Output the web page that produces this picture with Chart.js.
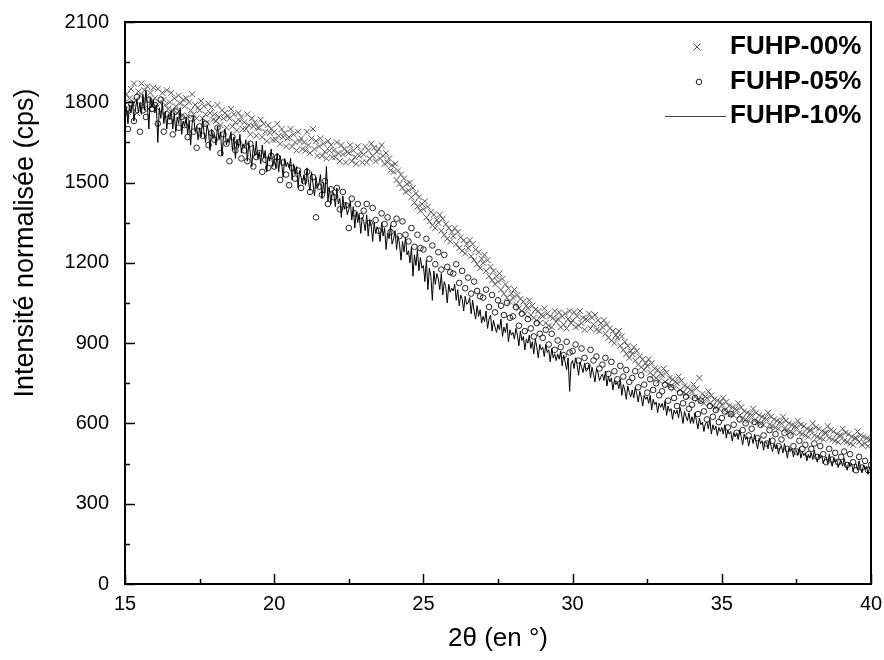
<!DOCTYPE html>
<html>
<head>
<meta charset="utf-8">
<script src="https://cdn.jsdelivr.net/npm/chart.js@4.4.1/dist/chart.umd.min.js"></script>
<style>
  html, body { margin: 0; padding: 0; background: #fff; }
  #xrd_chart { display: block; }
</style>
</head>
<body>
<canvas id="xrd_chart" width="884" height="660"></canvas>
<script>
// 2theta grid of the scans (deg)
const angleStart = 15
const stepFine = 0.05    // FUHP-00% and FUHP-10%
const stepCoarse = 0.1   // FUHP-05%

const seriesNames = ['FUHP-00%', 'FUHP-05%', 'FUHP-10%']

// FUHP-00% (crosses), one row = 0.5 deg
const fuhp00 = [
  1790, 1830, 1765, 1815, 1850, 1780, 1870, 1805, 1760, 1840,
  1825, 1870, 1790, 1845, 1810, 1860, 1775, 1835, 1800, 1855,
  1815, 1780, 1850, 1800, 1765, 1835, 1810, 1790, 1845, 1775,
  1800, 1835, 1770, 1815, 1785, 1760, 1825, 1795, 1750, 1810,
  1785, 1815, 1750, 1800, 1770, 1830, 1755, 1790, 1740, 1780,
  1770, 1805, 1740, 1785, 1755, 1725, 1795, 1760, 1780, 1735,
  1755, 1730, 1790, 1745, 1715, 1770, 1740, 1760, 1705, 1750,
  1740, 1775, 1710, 1755, 1725, 1695, 1760, 1730, 1745, 1700,
  1725, 1700, 1755, 1715, 1680, 1740, 1710, 1725, 1675, 1705,
  1705, 1735, 1670, 1720, 1690, 1655, 1715, 1685, 1700, 1660,
  1690, 1660, 1720, 1675, 1645, 1700, 1670, 1685, 1635, 1665,
  1670, 1700, 1635, 1680, 1650, 1620, 1690, 1655, 1665, 1625,
  1650, 1620, 1690, 1640, 1610, 1665, 1700, 1625, 1655, 1600,
  1635, 1665, 1600, 1645, 1615, 1590, 1655, 1620, 1640, 1595,
  1620, 1595, 1650, 1610, 1580, 1640, 1605, 1625, 1575, 1615,
  1610, 1640, 1580, 1620, 1595, 1570, 1635, 1600, 1615, 1575,
  1605, 1635, 1575, 1620, 1590, 1645, 1600, 1630, 1580, 1615,
  1625, 1590, 1640, 1600, 1570, 1610, 1575, 1590, 1545, 1565,
  1540, 1570, 1510, 1545, 1495, 1530, 1480, 1515, 1465, 1495,
  1470, 1500, 1445, 1480, 1425, 1460, 1410, 1445, 1395, 1420,
  1400, 1430, 1370, 1410, 1355, 1390, 1340, 1380, 1330, 1360,
  1350, 1380, 1320, 1365, 1305, 1345, 1290, 1330, 1280, 1315,
  1300, 1330, 1270, 1315, 1255, 1295, 1245, 1285, 1235, 1270,
  1255, 1285, 1225, 1270, 1210, 1250, 1195, 1240, 1180, 1215,
  1200, 1230, 1170, 1210, 1150, 1185, 1135, 1170, 1120, 1150,
  1130, 1160, 1100, 1140, 1085, 1120, 1070, 1105, 1055, 1085,
  1070, 1100, 1045, 1080, 1030, 1065, 1020, 1055, 1010, 1040,
  1030, 1060, 1005, 1040, 995, 1025, 985, 1020, 975, 1005,
  1000, 1030, 975, 1010, 965, 1000, 960, 995, 1020, 980,
  990, 1015, 960, 1000, 970, 1010, 955, 990, 1020, 975,
  985, 1015, 960, 1000, 965, 1020, 975, 995, 950, 990,
  985, 1010, 955, 995, 970, 1005, 950, 985, 945, 975,
  960, 985, 935, 970, 920, 955, 910, 945, 900, 930,
  920, 945, 890, 925, 875, 905, 860, 890, 845, 870,
  860, 885, 835, 870, 820, 850, 810, 840, 800, 825,
  815, 840, 790, 825, 780, 805, 770, 800, 760, 785,
  780, 805, 755, 790, 745, 770, 740, 765, 730, 755,
  750, 775, 725, 760, 715, 740, 710, 735, 700, 725,
  720, 745, 700, 730, 690, 770, 685, 710, 675, 700,
  695, 720, 675, 705, 665, 690, 660, 685, 655, 680,
  670, 695, 650, 680, 640, 665, 635, 660, 630, 655,
  650, 675, 630, 660, 620, 645, 615, 640, 610, 635,
  630, 655, 610, 640, 605, 630, 600, 625, 595, 620,
  615, 640, 595, 625, 590, 615, 585, 610, 580, 605,
  600, 625, 580, 610, 575, 600, 570, 595, 565, 590,
  585, 610, 565, 595, 560, 590, 555, 580, 550, 575,
  575, 600, 555, 585, 550, 580, 545, 570, 540, 565,
  565, 590, 545, 575, 540, 570, 535, 560, 530, 555,
  555, 580, 535, 565, 530, 560, 525, 550, 520, 545,
  545, 570, 530, 555, 520, 550, 525, 545, 515, 540,
  540
]

// FUHP-05% (circles), one row = 1 deg
const fuhp05 = [
  1760, 1700, 1795, 1730, 1820, 1690, 1770, 1745, 1810, 1775,
  1790, 1720, 1810, 1690, 1755, 1730, 1680, 1765, 1705, 1745,
  1715, 1670, 1740, 1690, 1630, 1710, 1675, 1720, 1640, 1685,
  1660, 1705, 1610, 1680, 1645, 1580, 1670, 1620, 1650, 1590,
  1620, 1580, 1645, 1560, 1595, 1610, 1540, 1585, 1555, 1600,
  1560, 1595, 1510, 1575, 1530, 1490, 1555, 1515, 1545, 1480,
  1505, 1540, 1465, 1520, 1370, 1485, 1455, 1505, 1420, 1475,
  1445, 1480, 1400, 1465, 1415, 1330, 1440, 1385, 1420, 1375,
  1395, 1420, 1350, 1405, 1360, 1320, 1385, 1345, 1370, 1315,
  1345, 1365, 1300, 1355, 1305, 1280, 1330, 1260, 1305, 1255,
  1250, 1290, 1215, 1265, 1195, 1240, 1175, 1230, 1185, 1165,
  1160, 1195, 1125, 1170, 1105, 1145, 1085, 1130, 1095, 1075,
  1070, 1100, 1035, 1080, 1015, 1060, 1040, 1005, 1050, 995,
  1000, 1035, 965, 1010, 945, 990, 955, 925, 975, 935,
  920, 950, 895, 935, 875, 910, 885, 855, 905, 865,
  870, 895, 835, 880, 845, 815, 875, 835, 850, 805,
  820, 845, 785, 830, 795, 765, 815, 775, 800, 755,
  770, 795, 735, 780, 745, 715, 765, 725, 750, 705,
  720, 745, 685, 735, 695, 665, 715, 675, 700, 655,
  670, 695, 635, 685, 645, 615, 665, 625, 650, 605,
  620, 645, 585, 635, 595, 565, 615, 575, 600, 555,
  580, 605, 545, 595, 555, 525, 575, 535, 560, 515,
  540, 565, 505, 555, 515, 495, 535, 505, 520, 485,
  505, 525, 475, 515, 485, 455, 505, 465, 490, 455,
  475, 495, 445, 485, 455, 425, 475, 435, 460, 425,
  445
]

// FUHP-10% (line), one row = 0.5 deg
const fuhp10 = [
  1745, 1780, 1720, 1790, 1760, 1805, 1730, 1775, 1810, 1760,
  1800, 1755, 1830, 1770, 1845, 1790, 1700, 1820, 1780, 1810,
  1760, 1790, 1650, 1780, 1740, 1800, 1720, 1765, 1700, 1755,
  1735, 1770, 1700, 1760, 1690, 1745, 1720, 1780, 1680, 1730,
  1710, 1745, 1680, 1730, 1640, 1720, 1750, 1690, 1710, 1660,
  1705, 1670, 1740, 1685, 1650, 1715, 1690, 1620, 1700, 1665,
  1680, 1640, 1710, 1660, 1690, 1600, 1670, 1700, 1640, 1665,
  1650, 1690, 1620, 1670, 1590, 1660, 1630, 1680, 1610, 1645,
  1630, 1660, 1580, 1650, 1610, 1560, 1640, 1600, 1655, 1590,
  1615, 1570, 1640, 1590, 1620, 1540, 1600, 1580, 1625, 1560,
  1590, 1555, 1610, 1540, 1600, 1570, 1520, 1590, 1560, 1575,
  1555, 1590, 1510, 1570, 1530, 1560, 1480, 1545, 1520, 1500,
  1530, 1490, 1555, 1500, 1470, 1540, 1495, 1450, 1520, 1480,
  1495, 1530, 1440, 1500, 1460, 1560, 1430, 1480, 1420, 1470,
  1455, 1410, 1480, 1420, 1440, 1370, 1450, 1400, 1425, 1380,
  1400, 1430, 1360, 1410, 1330, 1390, 1350, 1380, 1310, 1370,
  1355, 1320, 1380, 1300, 1360, 1340, 1280, 1350, 1310, 1335,
  1320, 1280, 1350, 1300, 1330, 1250, 1310, 1290, 1340, 1270,
  1290, 1320, 1250, 1300, 1270, 1210, 1280, 1240, 1295, 1230,
  1245, 1200, 1260, 1150, 1230, 1190, 1250, 1170, 1220, 1180,
  1190, 1130, 1210, 1100, 1180, 1150, 1060, 1170, 1120, 1160,
  1140, 1100, 1160, 1080, 1130, 1110, 1050, 1120, 1090, 1105,
  1095, 1120, 1060, 1100, 1040, 1080, 1065, 1020, 1075, 1045,
  1050, 1070, 1010, 1060, 1020, 990, 1040, 1000, 1025, 975,
  1000, 980, 1020, 955, 990, 1005, 945, 985, 960, 940,
  970, 950, 990, 925, 960, 940, 975, 905, 950, 930,
  940, 915, 955, 930, 890, 945, 910, 925, 875, 915,
  900, 930, 880, 905, 860, 915, 885, 845, 895, 875,
  885, 850, 895, 865, 875, 830, 880, 845, 860, 835,
  860, 840, 870, 815, 855, 830, 800, 845, 720, 825,
  835, 805, 845, 820, 780, 830, 810, 790, 825, 795,
  800, 820, 770, 810, 785, 755, 805, 790, 760, 775,
  785, 760, 795, 740, 775, 755, 770, 725, 760, 745,
  755, 730, 765, 705, 745, 725, 690, 740, 715, 700,
  725, 695, 735, 710, 680, 720, 700, 665, 705, 690,
  700, 675, 705, 650, 690, 670, 680, 640, 675, 660,
  675, 650, 685, 630, 665, 645, 655, 615, 650, 635,
  650, 620, 660, 635, 600, 645, 625, 610, 640, 600,
  625, 600, 640, 610, 580, 620, 595, 605, 570, 600,
  605, 580, 615, 560, 595, 575, 590, 555, 585, 570,
  585, 560, 595, 545, 575, 560, 570, 535, 565, 550,
  565, 540, 575, 550, 520, 560, 540, 550, 515, 545,
  550, 525, 560, 530, 505, 545, 525, 535, 500, 530,
  530, 505, 545, 515, 495, 525, 505, 520, 485, 510,
  515, 490, 525, 500, 470, 510, 495, 505, 475, 495,
  500, 480, 510, 470, 495, 480, 490, 460, 485, 470,
  490, 465, 500, 475, 455, 485, 470, 480, 450, 470,
  475, 450, 485, 460, 440, 470, 455, 465, 435, 455,
  460, 440, 470, 445, 425, 455, 440, 450, 420, 445,
  450, 425, 460, 435, 415, 445, 430, 440, 410, 435,
  430
]

const xTickStep = 5
const yTickStep = 300
const yTitle = 'Intensité normalisée (cps)'
const xTitle = '2θ (en °)'

const FONT = '"Liberation Sans", Arial, sans-serif'

function toPoints(values, step){
    return values.map((v, i) => ({x: Math.round((angleStart + i * step) * 100) / 100, y: v}))
}

// frame + inward ticks (major and minor)
const frameAndTicks = {
    id: 'frameAndTicks',
    afterDatasetsDraw(chart){
        const ctx = chart.ctx
        const xs = chart.scales.x
        const ys = chart.scales.y
        const a = chart.chartArea
        ctx.save()
        ctx.strokeStyle = '#000'
        ctx.lineWidth = 1.5
        for (let v = xs.min; v <= xs.max; v += xTickStep / 2) {
            const px = Math.round(xs.getPixelForValue(v)) + 0.5
            const len = (v % xTickStep === 0) ? 10 : 5
            ctx.beginPath()
            ctx.moveTo(px, a.bottom)
            ctx.lineTo(px, a.bottom - len)
            ctx.stroke()
        }
        for (let v = ys.min; v <= ys.max; v += yTickStep / 2) {
            const py = Math.round(ys.getPixelForValue(v)) + 0.5
            const len = (v % yTickStep === 0) ? 10 : 5
            ctx.beginPath()
            ctx.moveTo(a.left, py)
            ctx.lineTo(a.left + len, py)
            ctx.stroke()
        }
        ctx.lineWidth = 2
        ctx.strokeRect(a.left, a.top, a.right - a.left, a.bottom - a.top)
        ctx.restore()
    }
}

// legend top right + y title (sits above the axis middle in the original)
const legendBox = {
    id: 'legendBox',
    afterDraw(chart){
        const ctx = chart.ctx
        const rows = [47, 82, 116]
        const markX = 697
        ctx.save()
        ctx.strokeStyle = '#555'
        ctx.lineWidth = 1
        ctx.beginPath()
        ctx.moveTo(markX - 3.5, rows[0] - 3.5); ctx.lineTo(markX + 3.5, rows[0] + 3.5)
        ctx.moveTo(markX + 3.5, rows[0] - 3.5); ctx.lineTo(markX - 3.5, rows[0] + 3.5)
        ctx.stroke()
        ctx.strokeStyle = '#222'
        ctx.beginPath()
        ctx.arc(markX + 2, rows[1], 2.8, 0, Math.PI * 2)
        ctx.stroke()
        ctx.strokeStyle = '#444'
        ctx.beginPath()
        ctx.moveTo(665, rows[2] + 0.5); ctx.lineTo(726, rows[2] + 0.5)
        ctx.stroke()

        ctx.fillStyle = '#000'
        ctx.font = 'bold 26px ' + FONT
        ctx.textBaseline = 'middle'
        ctx.textAlign = 'left'
        seriesNames.forEach((name, i) => ctx.fillText(name, 730, rows[i]))

        ctx.translate(26, 243)
        ctx.rotate(-Math.PI / 2)
        ctx.textAlign = 'center'
        ctx.font = '27px ' + FONT
        ctx.fillText(yTitle, 0, 0)
        ctx.restore()
    }
}

const ctx = document.getElementById('xrd_chart').getContext('2d')

const xrdChart = new Chart(ctx, {
    type: 'scatter',
    data: {
        datasets: [
            {
                label: seriesNames[0],
                data: toPoints(fuhp00, stepFine),
                showLine: false,
                pointStyle: 'crossRot',
                pointRadius: 4.2,
                borderColor: '#555',
                backgroundColor: '#555',
                borderWidth: 1,
                order: 2
            },
            {
                label: seriesNames[1],
                data: toPoints(fuhp05, stepCoarse),
                showLine: false,
                pointStyle: 'circle',
                pointRadius: 2.8,
                borderColor: '#222',
                backgroundColor: 'rgba(0,0,0,0)',
                borderWidth: 1,
                order: 1
            },
            {
                label: seriesNames[2],
                data: toPoints(fuhp10, stepFine),
                showLine: true,
                pointRadius: 0,
                borderColor: '#000',
                borderWidth: 1,
                tension: 0,
                order: 0
            }
        ]
    },
    options: {
        responsive: false,
        animation: false,
        events: [],
        layout: {padding: {top: 22, right: 13, left: 0, bottom: 0}},
        plugins: {
            legend: {display: false},
            tooltip: {enabled: false}
        },
        scales: {
            x: {
                type: 'linear',
                min: 15,
                max: 40,
                afterFit(scale){
                    scale.height = 76
                    scale.paddingLeft = 0
                    scale.paddingRight = 0
                },
                grid: {display: false, drawTicks: false},
                border: {display: false},
                ticks: {
                    stepSize: xTickStep,
                    color: '#000',
                    padding: 8,
                    maxRotation: 0,
                    callback: v => String(v),
                    font: {family: FONT, size: 20}
                },
                title: {
                    display: true,
                    text: xTitle,
                    color: '#000',
                    font: {family: FONT, size: 26},
                    padding: {top: 0, bottom: 6}
                }
            },
            y: {
                min: 0,
                max: 2100,
                afterFit(scale){
                    scale.width = 125
                    scale.paddingTop = 0
                    scale.paddingBottom = 0
                },
                grid: {display: false, drawTicks: false},
                border: {display: false},
                ticks: {
                    stepSize: yTickStep,
                    color: '#000',
                    padding: 16,
                    callback: v => String(v),
                    font: {family: FONT, size: 20}
                },
                title: {display: false}
            }
        }
    },
    plugins: [frameAndTicks, legendBox]
})
</script>
</body>
</html>
